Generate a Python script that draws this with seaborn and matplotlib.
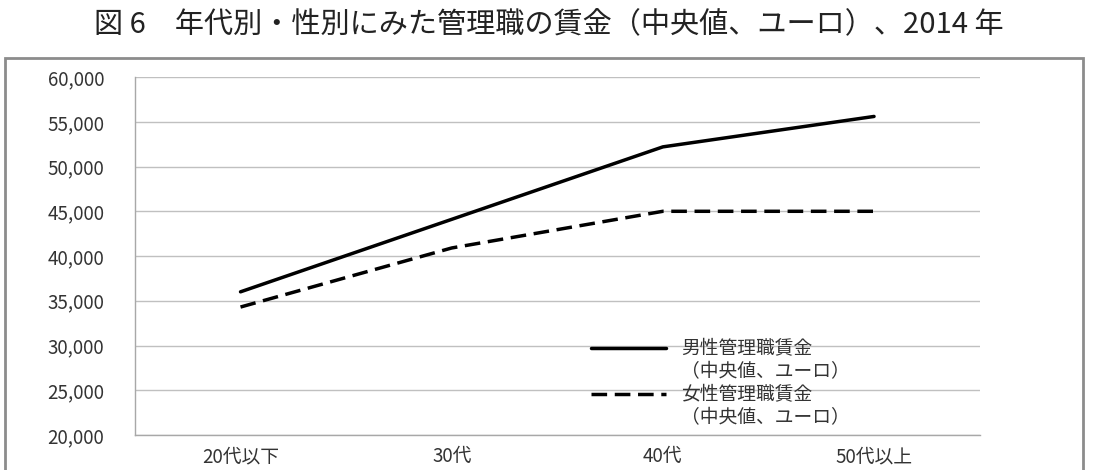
import matplotlib
matplotlib.use("Agg")
import matplotlib.pyplot as plt
import seaborn as sns
import pandas as pd
from matplotlib.lines import Line2D
from matplotlib.patches import Rectangle
from matplotlib.ticker import FuncFormatter, MultipleLocator, FixedLocator

ages = ["20代以下", "30代", "40代", "50代以上"]
male_wage = [36000, 44100, 52200, 55600]
female_wage = [34300, 40900, 45000, 45000]
series_names = ["男性管理職賃金", "女性管理職賃金"]
unit_note = "（中央値、ユーロ）"
title = "図 6　年代別・性別にみた管理職の賃金（中央値、ユーロ）、2014 年"


def main():
    sns.set_style("white")
    plt.rcParams["font.family"] = ["Noto Sans CJK JP", "DejaVu Sans"]

    df = pd.DataFrame({
        "age": ages * 2,
        "wage": male_wage + female_wage,
        "series": [series_names[0]] * 4 + [series_names[1]] * 4,
    })

    fig = plt.figure(figsize=(10.97, 4.70), dpi=100)
    ax = fig.add_axes([0.123, 0.0745, 0.770, 0.7615])

    sns.lineplot(
        data=df, x="age", y="wage", hue="series", style="series",
        palette=["black", "black"],
        dashes={series_names[0]: "", series_names[1]: (4.5, 2.2)},
        linewidth=2.5, ax=ax, legend=False, sort=False,
    )

    ax.set_xlim(-0.5, 3.5)
    ax.set_ylim(20000, 60000)
    ax.yaxis.set_major_locator(MultipleLocator(5000))
    ax.yaxis.set_major_formatter(FuncFormatter(lambda v, p: f"{int(v):,}"))
    ax.set_xticks(range(len(ages)))
    ax.set_xticklabels(ages)
    ax.xaxis.set_minor_locator(FixedLocator([-0.5, 0.5, 1.5, 2.5, 3.5]))
    ax.tick_params(axis="x", which="major", length=0, pad=8, labelsize=13.5, labelcolor="#333333")
    ax.tick_params(axis="x", which="minor", length=4, color="#a0a0a0", direction="out")
    ax.tick_params(axis="y", length=8, color="#c0c0c0", width=1, pad=14, labelsize=13.5, labelcolor="#333333")
    ax.set_xlabel("")
    ax.set_ylabel("")

    ax.grid(axis="y", color="#c0c0c0", linewidth=1)
    ax.set_axisbelow(True)
    for side in ["top", "right"]:
        ax.spines[side].set_visible(False)
    for side in ["left", "bottom"]:
        ax.spines[side].set_color("#a8a8a8")
        ax.spines[side].set_linewidth(1)

    # legend: line handle next to first text row, unit note on the row below
    lines = ax.get_lines()[:2]
    blank = Line2D([], [], linestyle="none")
    handles = [lines[0], blank, lines[1], blank]
    labels = [series_names[0], unit_note, series_names[1], unit_note]
    leg = ax.legend(handles, labels, loc="lower left", bbox_to_anchor=(0.52, -0.028),
                    frameon=False, fontsize=13.5, handlelength=4.0, labelspacing=0.1,
                    handletextpad=0.8)
    for t in leg.get_texts():
        t.set_color("#333333")

    fig.patches.append(Rectangle((5 / 1097, -0.05), 1078 / 1097, 1 - 58 / 470 + 0.05,
                                 transform=fig.transFigure, fill=False,
                                 edgecolor="#8c8c8c", linewidth=2))
    fig.text(0.5, 1 - 25 / 470, title, ha="center", va="center", fontsize=21, color="#222222")

    fig.savefig("out.png", dpi=100)
    plt.close(fig)


if __name__ == "__main__":
    main()
